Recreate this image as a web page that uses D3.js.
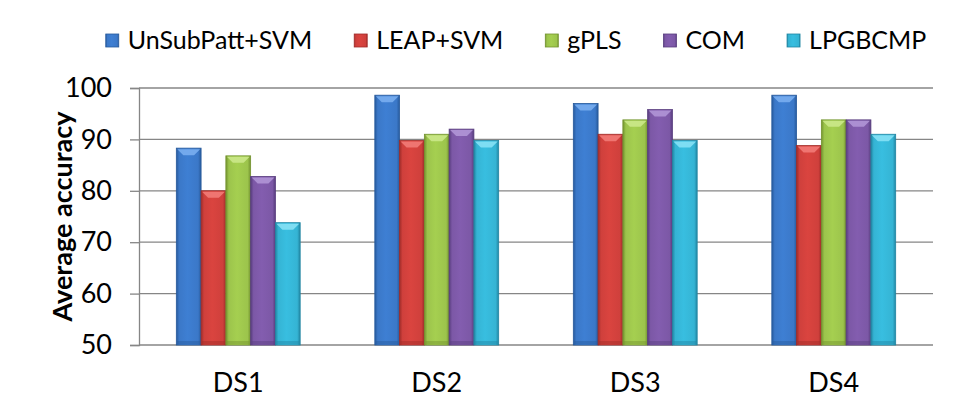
<!DOCTYPE html>
<html>
<head>
<meta charset="utf-8">
<script src="https://cdn.jsdelivr.net/npm/d3@7"></script>
<style>
  body { margin: 0; background: #fff; }
  svg { display: block; font-family: Lato, "Open Sans", sans-serif; }
</style>
</head>
<body>
<svg width="956" height="414"></svg>
<script>
// chart data
var categories = ["DS1", "DS2", "DS3", "DS4"];
var series = ["UnSubPatt+SVM", "LEAP+SVM", "gPLS", "COM", "LPGBCMP"];
var unsubpatt = [88.3, 98.6, 97, 98.6];
var leap = [80, 89.8, 91, 88.8];
var gpls = [86.8, 91, 93.8, 93.8];
var com = [82.8, 92, 95.8, 93.8];
var lpgbcmp = [73.8, 89.8, 89.8, 91];
var yTicks = [50, 60, 70, 80, 90, 100];

var values = [unsubpatt, leap, gpls, com, lpgbcmp];
var colors = ["#3b78c8", "#cf403c", "#9cc44c", "#7c58a6", "#35b4d4"];
var darks = ["#275a9c", "#a02c29", "#73932f", "#583d7e", "#2186a3"];
var lights = ["#79aef0", "#f27b77", "#cbe889", "#b095d6", "#86e1f5"];

var svg = d3.select("svg"),
    margin = { top: 88, right: 23, bottom: 69, left: 139 },
    width = +svg.attr("width") - margin.left - margin.right,
    height = +svg.attr("height") - margin.top - margin.bottom;

var data = categories.map(function (c, i) {
    return { cat: c, vals: series.map(function (s, j) { return { s: s, j: j, v: values[j][i] }; }) };
});

var x0 = d3.scaleBand().domain(categories).range([0, width]).padding(0);
var gap = x0.bandwidth() * 0.188;
var x1 = d3.scaleBand().domain(series).range([gap, x0.bandwidth() - gap]).padding(0);
var y = d3.scaleLinear().domain([50, 100]).range([height, 0]);

// gradients for the bevelled bars
var defs = svg.append("defs");
colors.forEach(function (c, j) {
    var gr = defs.append("linearGradient").attr("id", "grad" + j)
        .attr("x1", "0%").attr("x2", "100%").attr("y1", "0%").attr("y2", "0%");
    gr.append("stop").attr("offset", "0%").attr("stop-color", darks[j]);
    gr.append("stop").attr("offset", "12%").attr("stop-color", c);
    gr.append("stop").attr("offset", "45%").attr("stop-color", d3.color(c).brighter(0.15));
    gr.append("stop").attr("offset", "88%").attr("stop-color", c);
    gr.append("stop").attr("offset", "100%").attr("stop-color", darks[j]);
});

var g = svg.append("g")
    .attr("transform", "translate(" + margin.left + "," + margin.top + ")");

// gridlines + y axis
var yAxis = g.append("g")
    .call(d3.axisLeft(y).tickValues(yTicks).tickSize(9).tickPadding(18));
yAxis.select(".domain").attr("stroke", "#868686").attr("stroke-width", 1.3);
yAxis.selectAll(".tick line").attr("stroke", "#868686").attr("stroke-width", 1.3);
yAxis.selectAll(".tick text")
    .attr("font-size", 27).attr("fill", "#000")
    .style("font-family", "Lato, 'Open Sans', sans-serif");

g.append("g").selectAll("line")
    .data(yTicks)
    .enter().append("line")
    .attr("x1", 0).attr("x2", width)
    .attr("y1", function (d) { return y(d); })
    .attr("y2", function (d) { return y(d); })
    .attr("stroke", "#868686").attr("stroke-width", 1.3);

// x labels
g.append("g").selectAll("text")
    .data(categories)
    .enter().append("text")
    .attr("x", function (d) { return x0(d) + x0.bandwidth() / 2; })
    .attr("y", height + 47)
    .attr("text-anchor", "middle")
    .attr("font-size", 27)
    .text(function (d) { return d; });

// bars
var groups = g.selectAll(".grp")
    .data(data)
    .enter().append("g")
    .attr("class", "grp")
    .attr("transform", function (d) { return "translate(" + x0(d.cat) + ",0)"; });

var bars = groups.selectAll(".bar")
    .data(function (d) { return d.vals; })
    .enter().append("g")
    .attr("class", "bar");

bars.append("rect")
    .attr("x", function (d) { return x1(d.s); })
    .attr("y", function (d) { return y(d.v); })
    .attr("width", x1.bandwidth())
    .attr("height", function (d) { return height - y(d.v); })
    .attr("fill", function (d) { return "url(#grad" + d.j + ")"; })
    .attr("stroke", function (d) { return darks[d.j]; })
    .attr("stroke-width", 0.8);

// top bevel highlight
bars.append("path")
    .attr("d", function (d) {
        var l = x1(d.s), w = x1.bandwidth(), t = y(d.v), b = 7;
        return "M" + (l + 1) + "," + (t + 1) + "L" + (l + w - 1) + "," + (t + 1) +
            "L" + (l + w - b) + "," + (t + b) + "L" + (l + b) + "," + (t + b) + "Z";
    })
    .attr("fill", function (d) { return lights[d.j]; })
    .attr("opacity", 0.9);

// bottom shade
bars.append("rect")
    .attr("x", function (d) { return x1(d.s) + 1; })
    .attr("y", height - 4)
    .attr("width", x1.bandwidth() - 2)
    .attr("height", 3)
    .attr("fill", function (d) { return darks[d.j]; })
    .attr("opacity", 0.45);

// y axis title
svg.append("text")
    .attr("transform", "translate(72," + (margin.top + height / 2) + ") rotate(-90)")
    .attr("text-anchor", "middle")
    .attr("font-size", 27)
    .attr("font-weight", "bold")
    .text("Average accuracy");

// legend
var legend = svg.append("g").attr("transform", "translate(0,40)");
var items = legend.selectAll(".item")
    .data(series)
    .enter().append("g")
    .attr("class", "item");
items.append("rect")
    .attr("width", 13).attr("height", 13)
    .attr("y", -6)
    .attr("fill", function (d, j) { return "url(#grad" + j + ")"; })
    .attr("stroke", function (d, j) { return darks[j]; })
    .attr("stroke-width", 0.8);
items.append("text")
    .attr("x", 22)
    .attr("y", 9)
    .attr("font-size", 25)
    .text(function (d) { return d; });

var pos = [], cur = 0;
items.each(function () {
    pos.push(cur);
    cur += 22 + this.querySelector("text").getComputedTextLength() + 42;
});
var total = cur - 42, start = 516 - total / 2;
items.attr("transform", function (d, i) { return "translate(" + (start + pos[i]) + ",0)"; });
</script>
</body>
</html>
